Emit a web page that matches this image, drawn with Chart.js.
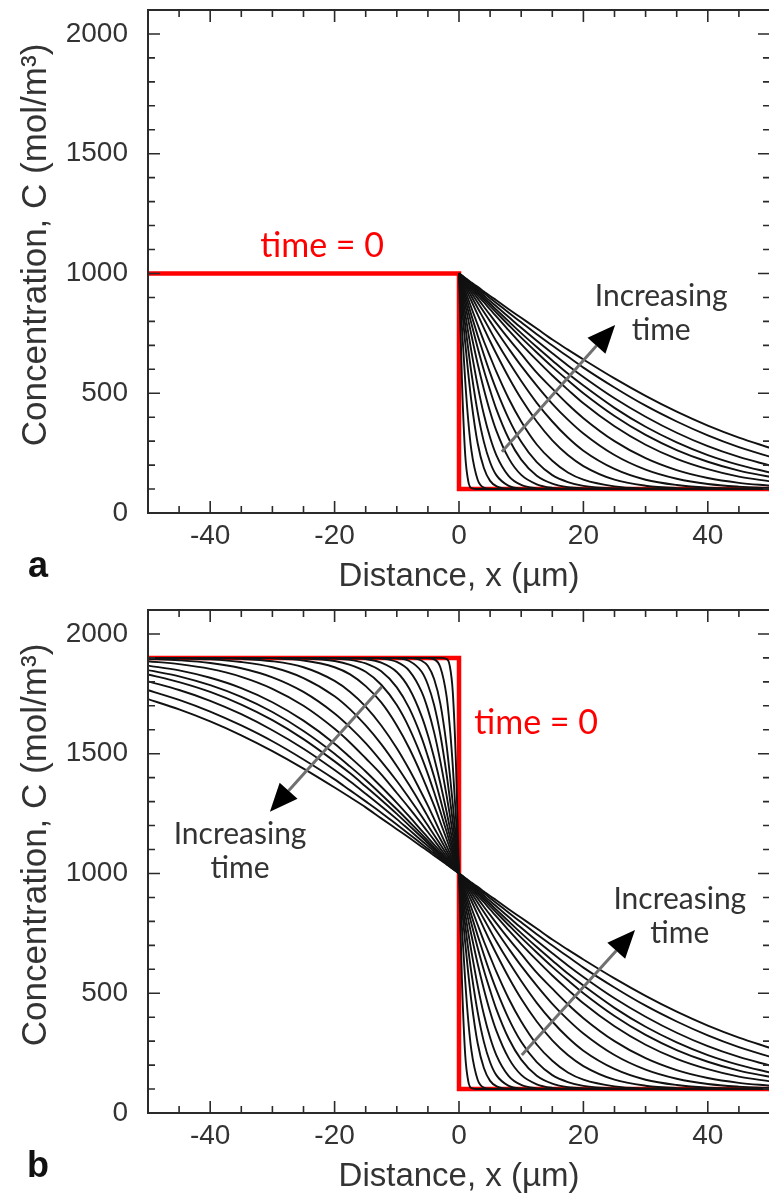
<!DOCTYPE html>
<html>
<head>
<meta charset="utf-8">
<script src="https://cdn.jsdelivr.net/npm/chart.js@4.4.1/dist/chart.umd.min.js"></script>
<style>
  html, body { margin: 0; padding: 0; background: #fff; overflow: hidden; }
  canvas { position: absolute; left: 0; display: block; }
  #chartA { top: 0; }
  #chartB { top: 600px; }
</style>
</head>
<body>
<canvas id="chartA" width="772" height="600"></canvas>
<canvas id="chartB" width="772" height="600"></canvas>
<script>
// distance (um) where the curves were read, right side (x >= 0) and left side (x <= 0)
const distance = [0, 0.5, 1, 1.5, 2, 3, 4, 5, 6, 8, 10, 12.5, 15, 17.5, 20, 25, 30, 35, 40, 45, 50];
const distanceLeft = [0, -0.5, -1, -1.5, -2, -3, -4, -5, -6, -8, -10, -12.5, -15, -17.5, -20, -25, -30, -35, -40, -45, -50];

// concentration profiles (mol/m3), one row per time, x >= 0 (same in a and b)
const curvesRight = [
  [1000,532,242,131,104,100,100,100,100,100,100,100,100,100,100,100,100,100,100,100,100],
  [1000,763,551,382,260,139,106,101,100,100,100,100,100,100,100,100,100,100,100,100,100],
  [1000,852,709,580,465,291,188,134,112,101,100,100,100,100,100,100,100,100,100,100,100],
  [1000,890,783,681,585,421,297,212,158,113,102,100,100,100,100,100,100,100,100,100,100],
  [1000,915,833,751,674,532,411,315,242,154,117,103,100,100,100,100,100,100,100,100,100],
  [1000,934,869,805,742,623,517,423,344,228,159,120,105,101,100,100,100,100,100,100,100],
  [1000,947,894,841,790,690,596,512,434,310,223,156,123,108,103,100,100,100,100,100,100],
  [1000,956,912,869,825,741,661,585,515,393,297,212,158,129,113,102,100,100,100,100,100],
  [1000,964,928,892,856,786,717,653,590,477,382,286,218,169,139,111,102,100,100,100,100],
  [1000,971,942,913,885,828,772,717,665,566,477,382,303,242,196,139,114,104,101,100,100],
  [1000,976,952,928,904,856,810,763,717,631,551,460,382,315,260,184,139,117,106,102,101],
  [1000,980,959,939,919,879,839,800,761,686,614,532,456,390,332,242,181,143,121,110,104],
  [1000,983,965,947,930,896,861,827,793,727,664,586,519,454,396,300,229,179,146,126,114],
  [1000,985,970,955,939,909,880,850,821,762,705,638,574,515,458,362,285,226,183,152,132],
  [1000,986,973,959,945,918,891,864,837,784,732,670,610,554,500,405,326,263,214,177,151],
  [1000,987,975,962,949,924,899,874,849,800,751,693,637,582,532,439,360,295,242,201,169],
  [1000,989,977,966,954,931,908,885,863,818,773,719,667,616,568,479,402,335,279,234,198],
  [1000,990,980,969,959,938,917,897,877,836,796,746,699,653,607,524,448,382,324,275,235],
  [1000,991,981,972,962,944,925,906,888,851,815,770,724,682,641,562,489,423,365,315,272]
];

// panel b, x <= 0
const curvesLeft = [
  [1000,1468,1758,1869,1896,1900,1900,1900,1900,1900,1900,1900,1900,1900,1900,1900,1900,1900,1900,1900,1900],
  [1000,1237,1449,1618,1740,1861,1894,1899,1900,1900,1900,1900,1900,1900,1900,1900,1900,1900,1900,1900,1900],
  [1000,1148,1291,1420,1535,1709,1812,1866,1888,1899,1900,1900,1900,1900,1900,1900,1900,1900,1900,1900,1900],
  [1000,1110,1217,1319,1415,1579,1703,1788,1842,1887,1898,1900,1900,1900,1900,1900,1900,1900,1900,1900,1900],
  [1000,1085,1167,1249,1326,1468,1589,1685,1758,1846,1883,1897,1900,1900,1900,1900,1900,1900,1900,1900,1900],
  [1000,1066,1131,1195,1258,1377,1483,1577,1656,1772,1841,1880,1895,1899,1900,1900,1900,1900,1900,1900,1900],
  [1000,1053,1106,1159,1210,1310,1404,1488,1566,1690,1777,1844,1877,1892,1897,1900,1900,1900,1900,1900,1900],
  [1000,1044,1088,1131,1175,1259,1339,1415,1485,1607,1703,1788,1842,1871,1887,1898,1900,1900,1900,1900,1900],
  [1000,1036,1072,1108,1144,1214,1283,1347,1410,1523,1618,1714,1782,1831,1861,1889,1898,1900,1900,1900,1900],
  [1000,1029,1058,1087,1115,1172,1228,1283,1335,1434,1523,1618,1697,1758,1804,1861,1886,1896,1899,1900,1900],
  [1000,1024,1048,1072,1096,1144,1190,1237,1283,1369,1449,1540,1618,1685,1740,1816,1861,1883,1894,1898,1899],
  [1000,1020,1041,1061,1081,1121,1161,1200,1239,1314,1386,1468,1544,1610,1668,1758,1819,1857,1879,1890,1896],
  [1000,1017,1035,1053,1070,1104,1139,1173,1207,1273,1336,1414,1481,1546,1604,1700,1771,1821,1854,1874,1886],
  [1000,1015,1030,1045,1061,1091,1120,1150,1179,1238,1295,1362,1426,1485,1542,1638,1715,1774,1817,1848,1868],
  [1000,1014,1027,1041,1055,1082,1109,1136,1163,1216,1268,1330,1390,1446,1500,1595,1674,1737,1786,1823,1849],
  [1000,1013,1025,1038,1051,1076,1101,1126,1151,1200,1249,1307,1363,1418,1468,1561,1640,1705,1758,1799,1831],
  [1000,1011,1023,1034,1046,1069,1092,1115,1137,1182,1227,1281,1333,1384,1432,1521,1598,1665,1721,1766,1802],
  [1000,1010,1020,1031,1041,1062,1083,1103,1123,1164,1204,1254,1301,1347,1393,1476,1552,1618,1676,1725,1765],
  [1000,1009,1019,1028,1038,1056,1075,1094,1112,1149,1185,1230,1276,1318,1359,1438,1511,1577,1635,1685,1728]
];

// initial step profiles (time = 0)
const stepX = [-50, 0, 0, 50];
const stepA = [1000, 1000, 100, 100];
const stepB = [1900, 1900, 100, 100];

const xTickLabels = [-40, -20, 0, 20, 40];
const yTickLabels = [0, 500, 1000, 1500, 2000];

const AXIS_FONT = 'Liberation Sans, Arial, sans-serif';
const NOTE_FONT = 'Lato, Calibri, sans-serif';

function pts(xs, ys) {
  return xs.map((x, i) => ({ x: x, y: ys[i] }));
}

function blackLine(data) {
  return {
    data: data,
    borderColor: '#111',
    borderWidth: 1.9,
    pointRadius: 0,
    cubicInterpolationMode: 'monotone',
    order: 0
  };
}

function redLine(ys) {
  return {
    data: pts(stepX, ys),
    borderColor: '#ff0000',
    borderWidth: 4.5,
    borderJoinStyle: 'miter',
    pointRadius: 0,
    tension: 0,
    order: 1
  };
}

function arrow(ctx, x0, y0, x1, y1) {
  const ang = Math.atan2(y1 - y0, x1 - x0);
  const head = 28, half = 12;
  const bx = x1 - head * Math.cos(ang);
  const by = y1 - head * Math.sin(ang);
  ctx.strokeStyle = '#707070';
  ctx.lineWidth = 3;
  ctx.beginPath();
  ctx.moveTo(x0, y0);
  ctx.lineTo(bx, by);
  ctx.stroke();
  ctx.fillStyle = '#000';
  ctx.beginPath();
  ctx.moveTo(x1, y1);
  ctx.lineTo(bx + half * Math.sin(ang), by - half * Math.cos(ang));
  ctx.lineTo(bx - half * Math.sin(ang), by + half * Math.cos(ang));
  ctx.closePath();
  ctx.fill();
}

// frame with inward ticks on all four sides, titles and notes
const decorations = {
  id: 'decorations',
  afterDraw(chart, args, opts) {
    const { ctx, chartArea: a, scales: { x, y } } = chart;
    ctx.save();
    ctx.strokeStyle = '#2a2a2a';
    ctx.lineWidth = 2;
    ctx.strokeRect(a.left, a.top, a.right - a.left, a.bottom - a.top);

    ctx.lineWidth = 1.6;
    ctx.beginPath();
    for (let v = -45; v <= 45; v += 5) {
      const px = x.getPixelForValue(v);
      const len = xTickLabels.includes(v) ? 12 : 7;
      ctx.moveTo(px, a.bottom); ctx.lineTo(px, a.bottom - len);
      ctx.moveTo(px, a.top); ctx.lineTo(px, a.top + len);
    }
    for (let v = 100; v <= 2000; v += 100) {
      const py = y.getPixelForValue(v);
      const len = yTickLabels.includes(v) ? 12 : 7;
      ctx.moveTo(a.left, py); ctx.lineTo(a.left + len, py);
      ctx.moveTo(a.right, py); ctx.lineTo(a.right - len, py);
    }
    ctx.stroke();

    // axis titles and panel letter
    ctx.fillStyle = '#333';
    ctx.textAlign = 'center';
    ctx.textBaseline = 'middle';
    ctx.font = '33px ' + AXIS_FONT;
    ctx.fillText('Distance, x (\u00b5m)', x.getPixelForValue(0), 577);
    ctx.save();
    ctx.translate(36, 245);
    ctx.rotate(-Math.PI / 2);
    ctx.font = '35px ' + AXIS_FONT;
    ctx.fillText('Concentration, C (mol/m\u00b3)', 0, 0);
    ctx.restore();
    ctx.fillStyle = '#111';
    ctx.font = 'bold 36px ' + AXIS_FONT;
    ctx.fillText(opts.letter, 38, 567);

    // notes
    opts.arrows.forEach(ar => {
      arrow(ctx, x.getPixelForValue(ar[0]), y.getPixelForValue(ar[1]),
        x.getPixelForValue(ar[2]), y.getPixelForValue(ar[3]));
    });
    ctx.font = '34px ' + NOTE_FONT;
    ctx.fillStyle = '#ff0000';
    ctx.fillText('time = 0', x.getPixelForValue(opts.red[0]), y.getPixelForValue(opts.red[1]));
    ctx.font = '30px ' + NOTE_FONT;
    ctx.fillStyle = '#333';
    opts.notes.forEach(n => {
      const px = x.getPixelForValue(n[0]);
      const py = y.getPixelForValue(n[1]);
      ctx.fillText('Increasing', px, py - 17);
      ctx.fillText('time', px, py + 17);
    });
    ctx.restore();
  }
};

function scales() {
  const tickFont = { family: AXIS_FONT, size: 28 };
  return {
    x: {
      type: 'linear', min: -50, max: 50,
      afterBuildTicks: s => { s.ticks = xTickLabels.map(v => ({ value: v })); },
      afterFit: s => { s.height = 87; s.paddingLeft = 0; s.paddingRight = 0; },
      grid: { display: false, drawTicks: false },
      border: { display: false },
      ticks: { color: '#333', font: tickFont, padding: 6, maxRotation: 0, autoSkip: false,
        callback: v => String(v) }
    },
    y: {
      type: 'linear', min: 0, max: 2100,
      afterBuildTicks: s => { s.ticks = yTickLabels.map(v => ({ value: v })); },
      afterFit: s => { s.width = 148; s.paddingTop = 0; s.paddingBottom = 0; },
      grid: { display: false, drawTicks: false },
      border: { display: false },
      ticks: { color: '#333', font: tickFont, padding: 20, autoSkip: false,
        callback: v => String(v) }
    }
  };
}

function makeChart(id, datasets, deco) {
  return new Chart(document.getElementById(id), {
    type: 'line',
    data: { datasets: datasets },
    options: {
      responsive: false,
      animation: false,
      devicePixelRatio: 1,
      layout: { padding: { top: 10, right: 2, left: 0, bottom: 0 } },
      scales: scales(),
      plugins: { legend: { display: false }, tooltip: { enabled: false }, decorations: deco }
    },
    plugins: [decorations]
  });
}

// panel a: fixed surface concentration at x = 0
const dataA = curvesRight.map(c => blackLine(pts(distance, c)));
dataA.push(redLine(stepA));
makeChart('chartA', dataA, {
  letter: 'a',
  red: [-22, 1115],
  notes: [[32.5, 833]],
  arrows: [[6.9, 256, 25.1, 785]]
});

// panel b: two half spaces in contact
const dataB = curvesRight.map((c, k) =>
  blackLine(pts(distanceLeft, curvesLeft[k]).reverse().concat(pts(distance, c).slice(1))));
dataB.push(redLine(stepB));
makeChart('chartB', dataB, {
  letter: 'b',
  red: [12.4, 1628],
  notes: [[35.5, 820], [-35.2, 1092]],
  arrows: [[10.1, 242, 28.3, 764], [-12.4, 1780, -30.4, 1258]]
});
</script>
</body>
</html>
